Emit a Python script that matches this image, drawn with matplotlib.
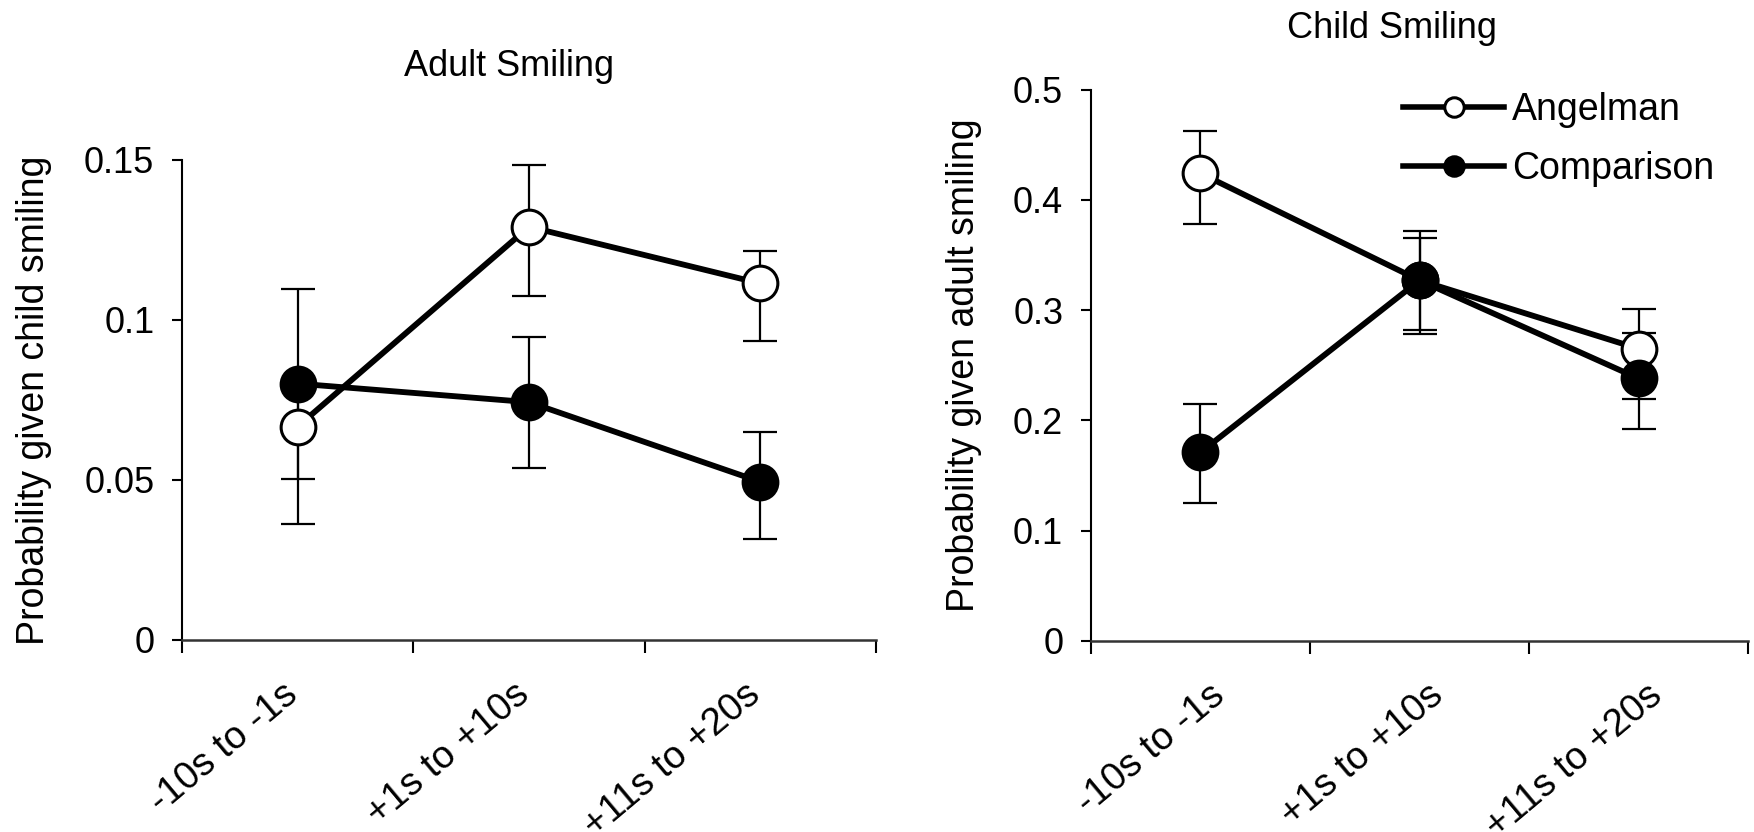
import matplotlib
matplotlib.use('Agg')
import matplotlib.pyplot as plt
import matplotlib.transforms as mtransforms
from matplotlib.ticker import FuncFormatter

plt.rcParams['font.family'] = ['Liberation Sans', 'DejaVu Sans']
plt.rcParams['axes.unicode_minus'] = False

# 数据
periods = ['-10s to -1s', '+1s to +10s', '+11s to +20s']
series_names = ['Angelman', 'Comparison']

# Adult Smiling (probability given child smiling)
adult_angel = [0.0667, 0.1291, 0.1114]
adult_angel_lo = [0.0305, 0.0216, 0.0181]
adult_angel_hi = [0.0130, 0.0192, 0.0101]
adult_comp = [0.0801, 0.0743, 0.0494]
adult_comp_lo = [0.0299, 0.0207, 0.0179]
adult_comp_hi = [0.0297, 0.0204, 0.0156]
adult_yticks = [0, 0.05, 0.1, 0.15]

# Child Smiling (probability given adult smiling)
child_angel = [0.424, 0.327, 0.265]
child_angel_lo = [0.046, 0.045, 0.046]
child_angel_hi = [0.038, 0.045, 0.036]
child_comp = [0.171, 0.327, 0.238]
child_comp_lo = [0.046, 0.049, 0.046]
child_comp_hi = [0.044, 0.038, 0.041]
child_yticks = [0, 0.1, 0.2, 0.3, 0.4, 0.5]

FS = 26
xpos = [i + 0.5 for i in range(len(periods))]

fig = plt.figure(figsize=(17.54, 8.32), dpi=100)
ax1 = fig.add_axes([0.1038, 0.2308, 0.3957, 0.577])
ax2 = fig.add_axes([0.622, 0.2296, 0.3746, 0.6628])


def draw_panel(ax, angel, a_lo, a_hi, comp, c_lo, c_hi, yticks, title, ylabel,
               title_xy, ylabel_x, label_dx):
    # 误差线
    ax.errorbar(xpos, angel, yerr=[a_lo, a_hi], fmt='none', ecolor='black',
                elinewidth=1.6, capsize=12, capthick=1.6, zorder=2)
    ax.errorbar(xpos, comp, yerr=[c_lo, c_hi], fmt='none', ecolor='black',
                elinewidth=1.6, capsize=12, capthick=1.6, zorder=2)
    # 折线
    ax.plot(xpos, angel, color='black', lw=4.2, zorder=3)
    ax.plot(xpos, comp, color='black', lw=4.2, zorder=3)
    # 标记
    ax.plot(xpos, angel, 'o', ms=25, mfc='white', mec='black', mew=2.2,
            zorder=4, label=series_names[0])
    ax.plot(xpos, comp, 'o', ms=25, mfc='black', mec='black', mew=2.2,
            zorder=5, label=series_names[1])

    ax.set_xlim(0, len(periods))
    ax.set_ylim(yticks[0], yticks[-1])
    ax.spines['top'].set_visible(False)
    ax.spines['right'].set_visible(False)
    ax.spines['left'].set_linewidth(1.5)
    ax.spines['bottom'].set_linewidth(1.8)
    ax.spines['bottom'].set_color('#333333')

    ax.set_yticks(yticks)
    ax.yaxis.set_major_formatter(FuncFormatter(lambda v, p: '{:g}'.format(v)))
    ax.tick_params(axis='y', direction='out', length=7, width=1.5, pad=13,
                   labelsize=FS)

    ax.set_xticks(range(len(periods) + 1), minor=True)
    ax.set_xticks(xpos)
    ax.set_xticklabels(periods, rotation=40, ha='right', va='top',
                       rotation_mode='anchor', fontsize=FS + 1.5)
    ax.tick_params(axis='x', which='major', length=0, pad=26)
    ax.tick_params(axis='x', which='minor', direction='out', length=9, width=1.5)
    offset = mtransforms.ScaledTranslation(label_dx, 0, fig.dpi_scale_trans)
    for lab in ax.get_xticklabels():
        lab.set_transform(lab.get_transform() + offset)

    ax.text(title_xy[0], title_xy[1], title, transform=ax.transAxes,
            ha='center', va='center', fontsize=FS)
    ax.text(ylabel_x, 0.5, ylabel, transform=ax.transAxes, rotation=90,
            ha='center', va='center', fontsize=FS + 1)


draw_panel(ax1, adult_angel, adult_angel_lo, adult_angel_hi,
           adult_comp, adult_comp_lo, adult_comp_hi, adult_yticks,
           'Adult Smiling', 'Probability given child smiling',
           (0.471, 1.194), -0.213, -0.16)
draw_panel(ax2, child_angel, child_angel_lo, child_angel_hi,
           child_comp, child_comp_lo, child_comp_hi, child_yticks,
           'Child Smiling', 'Probability given adult smiling',
           (0.458, 1.1115), -0.193, 0.08)

ax2.legend(loc='upper left', bbox_to_anchor=(0.475, 0.996), frameon=False,
           fontsize=FS + 1, handlelength=2.7, handletextpad=0.2,
           labelspacing=0.62, borderpad=0, borderaxespad=0, markerscale=0.56)

# 图例中画出连线
leg = ax2.get_legend()
for h in leg.legend_handles:
    h.set_linestyle('-')
    h.set_linewidth(4)
    h.set_color('black')
h0, h1 = leg.legend_handles
h0.set_markerfacecolor('white')
h0.set_markeredgecolor('black')
h1.set_markerfacecolor('black')

fig.savefig('out.png', dpi=100)
